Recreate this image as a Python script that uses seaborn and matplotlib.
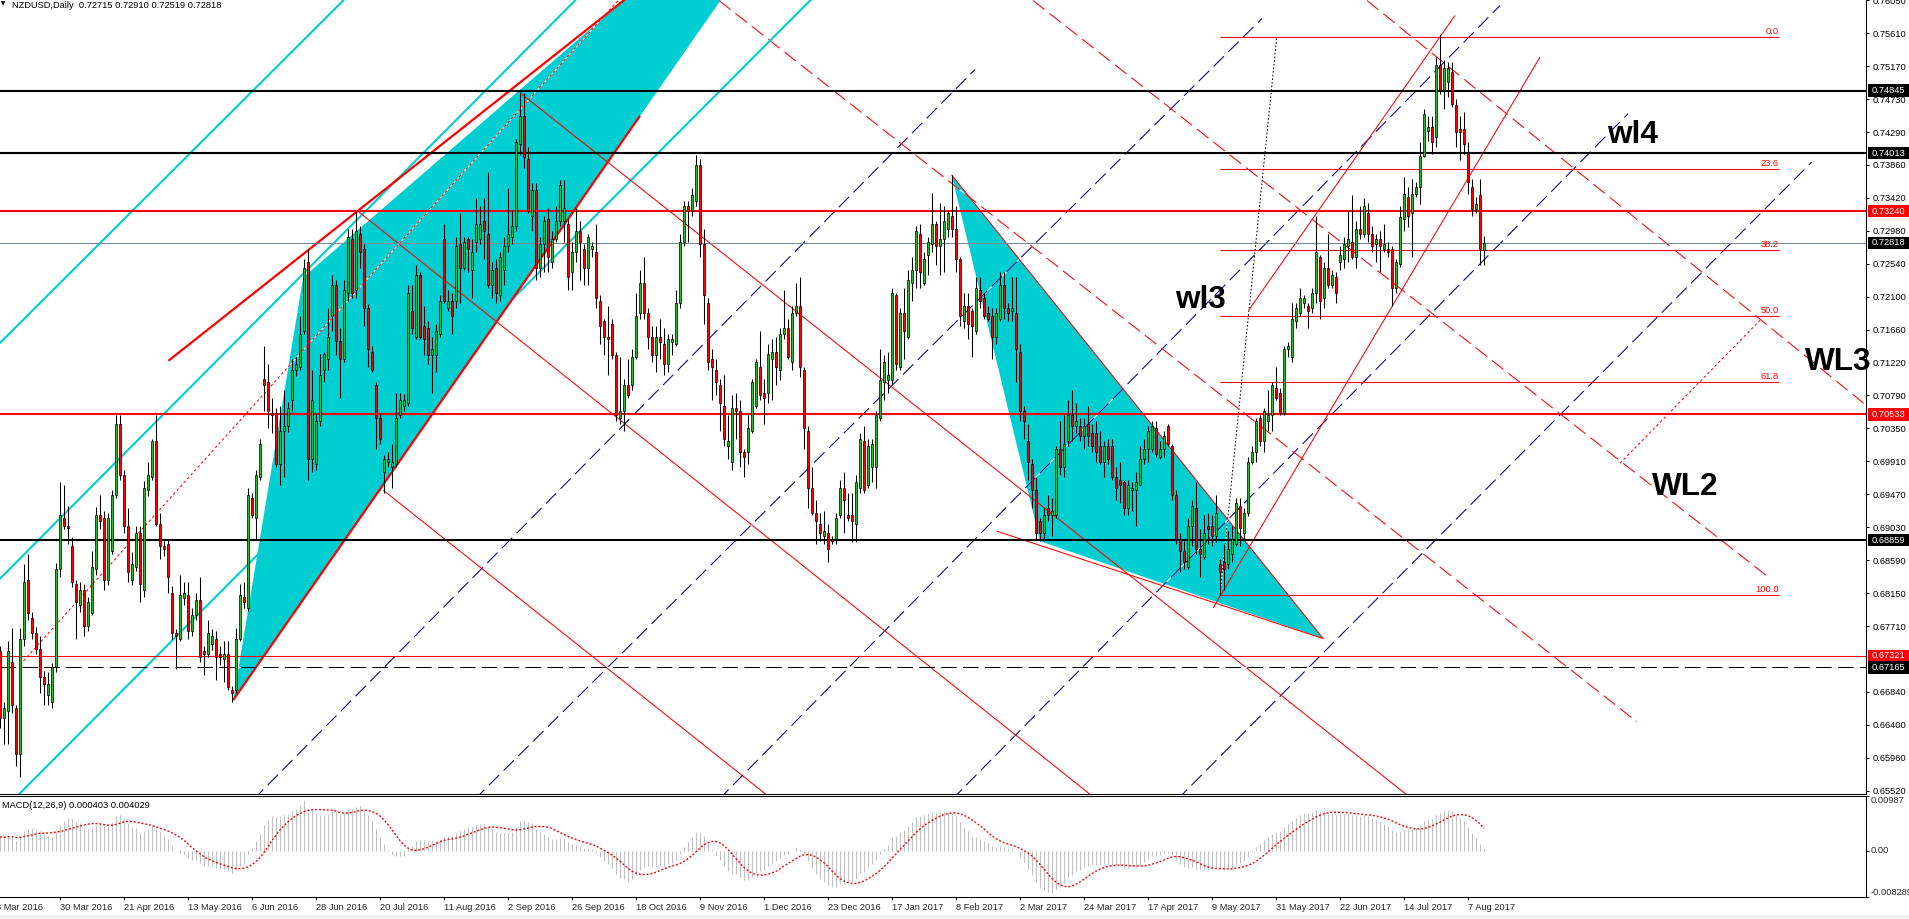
import numpy as np
import pandas as pd
import matplotlib
matplotlib.use("Agg")
import matplotlib.pyplot as plt
import matplotlib.transforms as mtransforms
from matplotlib.patches import Polygon, Rectangle
import seaborn as sns

W, H = 1909, 919

# ---- daily NZDUSD candles, pips (0.0001), bar 0 = 9 Mar 2016 ----
opens = [
    6738, 6649, 6659, 6724, 6663, 6601, 6755, 6833, 6782, 6762,
    6741, 6704, 6680, 6670, 6717, 6847, 6915, 6905, 6878, 6827,
    6799, 6820, 6772, 6789, 6847, 6919, 6915, 6833, 6871, 6946,
    7041, 6973, 6905, 6833, 6850, 6895, 6820, 6953, 6970, 7018,
    6908, 6878, 6881, 6816, 6762, 6755, 6809, 6813, 6765, 6786,
    6806, 6738, 6734, 6748, 6755, 6734, 6728, 6734, 6687, 6687,
    6755, 6810, 6796, 6942, 6915, 6970, 7100, 7096, 7055, 7055,
    6987, 7031, 7038, 7072, 7113, 7116, 7164, 7256, 6994, 6987,
    7045, 7113, 7127, 7185, 7226, 7151, 7127, 7215, 7287, 7219,
    7294, 7273, 7195, 7137, 7093, 7048, 6977, 6990, 6983, 6987,
    7052, 7065, 7069, 7191, 7157, 7239, 7171, 7168, 7133, 7133,
    7161, 7287, 7195, 7205, 7205, 7280, 7249, 7287, 7246, 7283,
    7287, 7311, 7294, 7226, 7249, 7212, 7246, 7277, 7290, 7304,
    7413, 7451, 7393, 7318, 7352, 7249, 7280, 7314, 7256, 7287,
    7311, 7311, 7307, 7243, 7270, 7297, 7273, 7249, 7273, 7270,
    7205, 7178, 7157, 7174, 7133, 7048, 7058, 7093, 7093, 7130,
    7188, 7229, 7188, 7157, 7133, 7157, 7147, 7120, 7150, 7147,
    7202, 7283, 7331, 7324, 7338, 7386, 7280, 7202, 7127, 7113,
    7093, 7065, 7011, 6990, 7062, 7058, 7004, 7004, 7031, 7065,
    7116, 7082, 7082, 7127, 7137, 7113, 7161, 7168, 7123, 7188,
    7198, 7113, 7031, 6956, 6922, 6908, 6891, 6895, 6888, 6888,
    6919, 6956, 6919, 6919, 6908, 6956, 7018, 6959, 6983, 6983,
    7048, 7096, 7099, 7099, 7212, 7116, 7188, 7157, 7229, 7246,
    7294, 7229, 7266, 7280, 7307, 7277, 7287, 7300, 7318, 7300,
    7260, 7178, 7198, 7191, 7164, 7219, 7208, 7188, 7185, 7157,
    7181, 7226, 7195, 7191, 7188, 7137, 7058, 7018, 6987, 6953,
    6912, 6895, 6929, 6919, 6919, 7007, 6983, 7018, 7052, 7038,
    7038, 7024, 7041, 7028, 7028, 7011, 6990, 7011, 7011, 6970,
    6966, 6963, 6929, 6953, 6953, 6959, 6994, 7007, 7007, 7035,
    6997, 7007, 7038, 7011, 6946, 6888, 6871, 6850, 6905, 6929,
    6874, 6864, 6905, 6905, 6891, 6854, 6857, 6854, 6867, 6881,
    6932, 6895, 6922, 6990, 7004, 7048, 7018, 7045, 7052, 7089,
    7082, 7055, 7140, 7130, 7178, 7188, 7202, 7198, 7195, 7215,
    7263, 7209, 7249, 7226, 7236, 7256, 7260, 7277, 7283, 7263,
    7300, 7294, 7321, 7294, 7280, 7287, 7273, 7273, 7273, 7222,
    7254, 7314, 7343, 7321, 7347, 7356, 7398, 7431, 7436, 7423,
    7518, 7485, 7496, 7509, 7465, 7434, 7434, 7400, 7356, 7327,
    7345, 7272,
]
highs = [
    6745, 6670, 6752, 6769, 6666, 6769, 6854, 6867, 6790, 6770,
    6758, 6712, 6711, 6722, 6855, 6963, 6959, 6932, 6890, 6833,
    6830, 6828, 6810, 6871, 6930, 6946, 6925, 6922, 6953, 7052,
    7052, 6980, 6929, 6870, 6905, 6905, 6965, 6990, 7021, 7052,
    6922, 6885, 6888, 6825, 6768, 6840, 6830, 6830, 6795, 6815,
    6837, 6745, 6779, 6768, 6765, 6745, 6752, 6752, 6692, 6769,
    6827, 6830, 6956, 6949, 6980, 7021, 7144, 7120, 7075, 7062,
    7065, 7086, 7070, 7127, 7130, 7185, 7260, 7273, 7113, 7055,
    7134, 7137, 7195, 7239, 7232, 7168, 7232, 7300, 7300, 7324,
    7304, 7280, 7200, 7145, 7096, 7055, 7000, 7004, 7014, 7082,
    7082, 7080, 7226, 7226, 7253, 7243, 7198, 7178, 7157, 7174,
    7212, 7307, 7219, 7215, 7290, 7321, 7290, 7290, 7287, 7341,
    7331, 7341, 7376, 7256, 7260, 7270, 7290, 7355, 7325, 7420,
    7483, 7481, 7410, 7362, 7362, 7290, 7318, 7328, 7297, 7331,
    7365, 7365, 7314, 7283, 7328, 7311, 7280, 7294, 7283, 7307,
    7212, 7181, 7198, 7181, 7137, 7130, 7100, 7127, 7140, 7215,
    7246, 7263, 7195, 7171, 7171, 7181, 7168, 7161, 7161, 7219,
    7294, 7338, 7338, 7355, 7399, 7393, 7300, 7208, 7140, 7127,
    7100, 7106, 7052, 7079, 7082, 7072, 7007, 7052, 7100, 7127,
    7164, 7100, 7147, 7154, 7157, 7168, 7219, 7181, 7198, 7229,
    7236, 7116, 7038, 6983, 6939, 6922, 6925, 6908, 6891, 6922,
    6966, 6977, 6949, 6949, 6973, 7028, 7038, 7021, 7021, 7058,
    7140, 7133, 7137, 7222, 7215, 7195, 7222, 7246, 7263, 7304,
    7307, 7270, 7290, 7348, 7311, 7335, 7331, 7324, 7372, 7331,
    7263, 7215, 7215, 7195, 7236, 7236, 7215, 7198, 7195, 7195,
    7243, 7243, 7202, 7236, 7236, 7147, 7065, 7041, 6994, 6970,
    6915, 6929, 6946, 6942, 7011, 7045, 7052, 7072, 7086, 7069,
    7048, 7048, 7065, 7041, 7045, 7031, 7018, 7021, 7021, 6983,
    6990, 6966, 6966, 6963, 6977, 7011, 7021, 7038, 7045, 7045,
    7018, 7031, 7041, 7014, 6953, 6895, 6885, 6915, 6939, 6963,
    6901, 6919, 6922, 6919, 6946, 6861, 6881, 6898, 6905, 6942,
    6942, 6929, 6997, 7011, 7048, 7052, 7062, 7086, 7096, 7116,
    7089, 7144, 7150, 7202, 7202, 7222, 7212, 7202, 7222, 7318,
    7266, 7256, 7294, 7246, 7243, 7277, 7290, 7324, 7345, 7311,
    7331, 7341, 7335, 7304, 7294, 7297, 7307, 7283, 7277, 7260,
    7331, 7369, 7356, 7367, 7363, 7416, 7460, 7451, 7451, 7529,
    7558, 7525, 7522, 7522, 7474, 7451, 7456, 7416, 7367, 7343,
    7367, 7291,
]
lows = [
    6636, 6615, 6615, 6656, 6585, 6570, 6745, 6779, 6755, 6735,
    6683, 6666, 6666, 6663, 6710, 6837, 6901, 6881, 6823, 6755,
    6790, 6758, 6765, 6786, 6840, 6901, 6820, 6826, 6867, 6942,
    6966, 6895, 6830, 6826, 6845, 6803, 6810, 6945, 6966, 6905,
    6861, 6865, 6816, 6755, 6714, 6752, 6800, 6755, 6758, 6780,
    6724, 6707, 6731, 6740, 6700, 6720, 6697, 6687, 6670, 6683,
    6752, 6795, 6792, 6915, 6888, 6966, 7058, 7035, 7028, 6983,
    6960, 6970, 7030, 7058, 7105, 7113, 7161, 6966, 6977, 6980,
    7038, 7096, 7113, 7164, 7133, 7075, 7123, 7205, 7208, 7208,
    7249, 7171, 7116, 7110, 7007, 7014, 6949, 6983, 6956, 6983,
    7048, 7058, 7065, 7161, 7154, 7154, 7133, 7120, 7082, 7110,
    7157, 7202, 7191, 7161, 7195, 7202, 7246, 7243, 7209, 7270,
    7280, 7260, 7222, 7209, 7202, 7205, 7226, 7270, 7280, 7297,
    7399, 7382, 7321, 7297, 7232, 7236, 7243, 7243, 7249, 7283,
    7304, 7283, 7219, 7219, 7256, 7232, 7226, 7226, 7263, 7195,
    7147, 7133, 7106, 7127, 7045, 7041, 7031, 7075, 7086, 7127,
    7181, 7181, 7140, 7123, 7110, 7127, 7106, 7110, 7133, 7144,
    7195, 7277, 7283, 7318, 7331, 7263, 7174, 7113, 7072, 7079,
    7031, 7011, 6994, 6980, 7021, 6983, 6970, 6987, 7028, 7062,
    7072, 7041, 7069, 7072, 7093, 7099, 7154, 7127, 7113, 7185,
    7103, 7007, 6929, 6920, 6881, 6885, 6881, 6857, 6881, 6881,
    6915, 6895, 6912, 6884, 6884, 6949, 6949, 6956, 6963, 6956,
    7045, 7072, 7082, 7093, 7113, 7113, 7127, 7154, 7205, 7222,
    7222, 7226, 7239, 7270, 7253, 7239, 7243, 7290, 7290, 7243,
    7171, 7168, 7154, 7130, 7161, 7195, 7181, 7178, 7127, 7147,
    7178, 7181, 7178, 7178, 7096, 7045, 7021, 6966, 6929, 6888,
    6885, 6888, 6912, 6891, 6915, 6973, 6970, 7011, 7018, 7028,
    7018, 7007, 7011, 7004, 6990, 6987, 6970, 6987, 6966, 6939,
    6936, 6919, 6919, 6925, 6905, 6959, 6987, 6990, 7004, 6997,
    6994, 6997, 7011, 6939, 6881, 6844, 6847, 6847, 6878, 6867,
    6837, 6861, 6881, 6878, 6884, 6813, 6820, 6847, 6857, 6878,
    6878, 6888, 6918, 6987, 6990, 7011, 7004, 7031, 7031, 7072,
    7052, 7052, 7130, 7123, 7168, 7185, 7195, 7168, 7188, 7202,
    7181, 7195, 7222, 7222, 7202, 7246, 7249, 7256, 7260, 7249,
    7287, 7290, 7283, 7270, 7256, 7243, 7270, 7263, 7198, 7215,
    7250, 7298, 7303, 7263, 7343, 7334, 7396, 7418, 7400, 7409,
    7480, 7460, 7476, 7463, 7409, 7392, 7400, 7347, 7318, 7321,
    7252, 7252,
]
closes = [
    6649, 6663, 6738, 6666, 6601, 6755, 6830, 6789, 6762, 6741,
    6704, 6694, 6694, 6717, 6847, 6919, 6905, 6902, 6830, 6803,
    6820, 6772, 6803, 6850, 6919, 6912, 6833, 6915, 6946, 7041,
    6973, 6905, 6844, 6854, 6895, 6827, 6956, 6973, 7018, 6908,
    6878, 6874, 6837, 6762, 6758, 6813, 6816, 6765, 6786, 6806,
    6731, 6734, 6762, 6758, 6731, 6731, 6734, 6690, 6683, 6755,
    6813, 6803, 6946, 6919, 6973, 7014, 7093, 7058, 7052, 6987,
    7031, 7038, 7062, 7113, 7120, 7161, 7249, 6994, 7072, 7045,
    7106, 7134, 7157, 7226, 7151, 7127, 7219, 7290, 7215, 7297,
    7270, 7195, 7140, 7113, 7048, 7021, 6994, 6994, 6990, 7048,
    7072, 7072, 7215, 7168, 7239, 7157, 7154, 7133, 7140, 7164,
    7205, 7205, 7205, 7185, 7277, 7249, 7283, 7273, 7270, 7307,
    7307, 7297, 7226, 7246, 7215, 7263, 7277, 7294, 7304, 7416,
    7451, 7396, 7324, 7352, 7249, 7280, 7311, 7263, 7287, 7311,
    7359, 7328, 7236, 7270, 7297, 7283, 7249, 7290, 7277, 7208,
    7171, 7157, 7154, 7133, 7052, 7058, 7093, 7079, 7130, 7185,
    7229, 7188, 7157, 7133, 7157, 7150, 7120, 7154, 7154, 7202,
    7283, 7331, 7324, 7345, 7386, 7280, 7212, 7123, 7116, 7096,
    7069, 7021, 7018, 7062, 7058, 7004, 6997, 7035, 7096, 7123,
    7079, 7075, 7134, 7137, 7116, 7161, 7168, 7130, 7188, 7198,
    7116, 7035, 6956, 6922, 6912, 6895, 6898, 6874, 6885, 6915,
    6956, 6939, 6915, 6912, 6963, 7021, 6953, 7011, 7014, 7052,
    7099, 7123, 7106, 7215, 7120, 7188, 7164, 7232, 7246, 7297,
    7243, 7260, 7283, 7307, 7277, 7287, 7311, 7321, 7300, 7260,
    7185, 7198, 7174, 7171, 7222, 7205, 7185, 7181, 7157, 7188,
    7226, 7195, 7188, 7195, 7140, 7058, 7045, 6990, 6953, 6895,
    6895, 6919, 6919, 6925, 7007, 6983, 7014, 7052, 7038, 7045,
    7024, 7038, 7024, 7011, 7004, 6990, 7011, 6994, 6970, 6956,
    6959, 6929, 6959, 6956, 6963, 6994, 7007, 7031, 7038, 7001,
    7007, 7024, 7014, 6946, 6888, 6871, 6857, 6905, 6932, 6874,
    6867, 6895, 6901, 6891, 6922, 6844, 6847, 6874, 6888, 6936,
    6902, 6922, 6990, 7004, 7045, 7018, 7058, 7052, 7093, 7075,
    7055, 7140, 7144, 7181, 7195, 7208, 7208, 7191, 7215, 7270,
    7205, 7249, 7226, 7239, 7215, 7266, 7280, 7287, 7263, 7300,
    7294, 7331, 7294, 7277, 7287, 7277, 7280, 7270, 7222, 7256,
    7316, 7347, 7318, 7347, 7356, 7398, 7454, 7436, 7416, 7518,
    7485, 7514, 7514, 7467, 7429, 7429, 7414, 7363, 7327, 7334,
    7274, 7282,
]

date_bars = [-1, 15, 31, 47, 63, 79, 95, 111, 127, 143, 159, 175,
             191, 207, 223, 239, 255, 271, 287, 303, 319, 335, 351, 367]
date_labels = ["8 Mar 2016", "30 Mar 2016", "21 Apr 2016", "13 May 2016",
               "6 Jun 2016", "28 Jun 2016", "20 Jul 2016", "11 Aug 2016",
               "2 Sep 2016", "26 Sep 2016", "18 Oct 2016", "9 Nov 2016",
               "1 Dec 2016", "23 Dec 2016", "17 Jan 2017", "8 Feb 2017",
               "2 Mar 2017", "24 Mar 2017", "17 Apr 2017", "9 May 2017",
               "31 May 2017", "22 Jun 2017", "14 Jul 2017", "7 Aug 2017"]

price_tick_labels = ["0.76050", "0.75610", "0.75170", "0.74730", "0.74290",
                     "0.73860", "0.73420", "0.72980", "0.72540", "0.72100",
                     "0.71660", "0.71220", "0.70790", "0.70350", "0.69910",
                     "0.69470", "0.69030", "0.68590", "0.68150", "0.67710",
                     "0.66840", "0.66400", "0.65960", "0.65520"]
macd_tick_values = [0.00987, 0.0, -0.008289]
macd_tick_labels = ["0.00987", "0.00", "-0.008289"]
ema_seed_fast, ema_seed_slow = 0.6660, 0.6632

# horizontal levels
black_levels = [0.74845, 0.74013, 0.68859]
red_levels = [0.73240, 0.70533]
thin_red_level = 0.67321
dashed_level = 0.67165
bid_level = 0.72818
box_levels = [0.74845, 0.74013, 0.73240, 0.72818, 0.70533, 0.68859, 0.67321, 0.67165]
box_colors = ["black", "black", "red", "black", "red", "black", "red", "black"]

# fibonacci retracement
fib_pcts = [0.0, 23.6, 38.2, 50.0, 61.8, 100.0]
fib_names = ["0.0", "23.6", "38.2", "50.0", "61.8", "100.0"]
fib_high, fib_low = 0.75560, 0.68130
fib_bars = (305, 444.75)
fib_trend = [(305, 0.68130), (319.2, 0.75560)]

# drawn objects, anchors as (bar, price)
cyan_channel = [[(0, 0.71486), (85.8, 0.76045)],
                [(0, 0.68347), (143.75, 0.76045)],
                [(3.3, 0.65400), (202.5, 0.76045)]]
wedge_fill = [(58.3, 0.66730), (75.8, 0.72359), (217.0, 0.78866)]
wedge_top = [(42.1, 0.71248), (155.9, 0.76045)]
wedge_bottom = [(58.3, 0.66730), (160.0, 0.74510)]
wedge_dots = [(5, 0.67200), (71.7, 0.71146)]
flag_fill = [(237.9, 0.73724), (260.0, 0.68846), (330.8, 0.67549)]
flag_edges = [[(237.9, 0.73724), (330.8, 0.67549)],
              [(249.2, 0.68979), (330.8, 0.67549)]]
red_rays = [[(130.0, 0.74817), (352.5, 0.65435)],
            [(89.2, 0.73251), (255.0, 0.66218)],
            [(95.8, 0.69525), (193.25, 0.65400)]]
red_dashed = [[(179.75, 0.76045), (409.2, 0.66442)],
              [(258.25, 0.76045), (442.5, 0.68350)]]
red_dashed_ray = [(341.75, 0.76045), (465.0, 0.70722)]
red_dotted = [(405.0, 0.69884), (440.0, 0.71787)]
rise_lines = [[(312.1, 0.71916), (363.75, 0.75846)],
              [(303.3, 0.67959), (385.0, 0.75291)]]
blue_dashed = [[(63.25, 0.65400), (243.75, 0.75127)],
               [(118.5, 0.65400), (315.5, 0.75806)],
               [(179.6, 0.65400), (375.0, 0.75979)],
               [(237.9, 0.65400), (407.0, 0.74537)],
               [(294.2, 0.65400), (452.9, 0.73893)]]
wave_labels = ["wl3", "wl4", "WL3", "WL2"]
wave_pos = [(293.75, 0.71946), (401.75, 0.74142), (451.25, 0.71122), (413.0, 0.69458)]

TITLE = "NZDUSD,Daily  0.72715 0.72910 0.72519 0.72818"
MACD_TITLE = "MACD(12,26,9) 0.000403 0.004029"

CYAN = "#00CED1"
GREEN = "#2DB82D"
NAVY = "#000080"
FS = 6.7

sns.set_theme(style="white")
plt.rcParams["font.family"] = ["Liberation Sans", "DejaVu Sans"]
plt.rcParams["axes.linewidth"] = 0.75


def seg(ax, p, q, **kw):
    ax.plot([p[0], q[0]], [p[1], q[1]], solid_capstyle="butt", **kw)


def ray(ax, p, q, **kw):
    far = (p[0] + 40 * (q[0] - p[0]), p[1] + 40 * (q[1] - p[1]))
    seg(ax, p, far, **kw)


def broken(ax, p, q, color, dash, extend=False, z=2.5):
    # MT4 paints the gaps of dashed pens in the background colour
    draw = ray if extend else seg
    draw(ax, p, q, color="white", lw=0.75, zorder=z - 0.3)
    draw(ax, p, q, color=color, lw=0.75, linestyle=(0, dash), zorder=z)


def ema(values, seed, span):
    a = 2.0 / (span + 1)
    out, prev = [], seed
    for v in values:
        prev = prev + a * (v - prev)
        out.append(prev)
    return pd.Series(out)


fig = plt.figure(figsize=(W / 100, H / 100), dpi=100)
fig.patch.set_facecolor("white")
ax = fig.add_axes([0, 125 / H, 1866 / W, 794 / H])
axm = fig.add_axes([0, 22 / H, 1866 / W, 101 / H], sharex=ax)
axr = fig.add_axes([1866 / W, 125 / H, (W - 1866) / W, 794 / H], sharey=ax)

o = np.array(opens) / 1e4
h = np.array(highs) / 1e4
l = np.array(lows) / 1e4
c = np.array(closes) / 1e4
x = np.arange(len(c))

# --- filled triangles ---
ax.add_patch(Polygon(wedge_fill, closed=True, facecolor=CYAN, edgecolor="none", zorder=1))
ax.add_patch(Polygon(flag_fill, closed=True, facecolor=CYAN, edgecolor="none", zorder=1))

# --- dashed / dotted objects ---
for p, q in blue_dashed:
    broken(ax, p, q, NAVY, (14, 6))
for p, q in red_dashed:
    broken(ax, p, q, "red", (14, 6))
broken(ax, red_dashed_ray[0], red_dashed_ray[1], "red", (14, 6), extend=True)
broken(ax, red_dotted[0], red_dotted[1], "red", (2.5, 2.5))
broken(ax, wedge_dots[0], wedge_dots[1], "red", (2.5, 2.5), extend=True)
broken(ax, fib_trend[0], fib_trend[1], "black", (1.5, 2))

# --- solid trend lines ---
for p, q in cyan_channel:
    ax.axline(p, q, color=CYAN, lw=1.5, zorder=3)
for p, q in red_rays:
    ray(ax, p, q, color="red", lw=0.75, zorder=3)
for p, q in flag_edges:
    seg(ax, p, q, color="red", lw=0.75, zorder=3)
for p, q in rise_lines:
    seg(ax, p, q, color="red", lw=0.75, zorder=3)
ray(ax, wedge_top[0], wedge_top[1], color="red", lw=1.6, zorder=3.2)
seg(ax, wedge_bottom[0], wedge_bottom[1], color="red", lw=1.6, zorder=3.2)

# --- horizontal levels ---
for lv in black_levels:
    ax.axhline(lv, color="black", lw=1.5, zorder=3.5)
for lv in red_levels:
    ax.axhline(lv, color="red", lw=1.5, zorder=3.5)
ax.axhline(thin_red_level, color="red", lw=0.75, zorder=3.5)
ax.axhline(dashed_level, color="white", lw=0.75, zorder=3.4)
ax.axhline(dashed_level, color="black", lw=0.75, linestyle=(0, (15, 6)), zorder=3.5)
ax.axhline(bid_level, color="#778899", lw=0.75, zorder=3.5)

# --- fibonacci levels ---
fib_prices = [fib_high - pct / 100 * (fib_high - fib_low) for pct in fib_pcts]
ax.hlines(fib_prices, fib_bars[0], fib_bars[1], color="red", lw=0.75, zorder=4)
for pr, name in zip(fib_prices, fib_names):
    ax.text(fib_bars[1], pr + 0.00015, name, color="red", fontsize=FS,
            ha="right", va="bottom", zorder=4)

# --- candles ---
up = c >= o
body_lo = np.minimum(o, c)
body_h = np.maximum(np.abs(c - o), 0.00006)
ax.vlines(x, l, h, color="black", lw=0.75, zorder=6)
ax.bar(x, body_h, bottom=body_lo, width=0.6, color=np.where(up, GREEN, "red"),
       edgecolor="black", linewidth=0.5, zorder=7)

# --- wave labels ---
for txt, (bx, by) in zip(wave_labels, wave_pos):
    ax.text(bx, by, txt, fontsize=22.7, fontweight="bold", color="black",
            ha="left", va="baseline", zorder=9, clip_on=False)

# --- MACD panel (12, 26, 9; SMA signal as in MT4) ---
macd_main = ema(c, ema_seed_fast, 12) - ema(c, ema_seed_slow, 26)
macd_signal = macd_main.rolling(9, min_periods=1).mean()
axm.vlines(x, 0, macd_main.values, color="#C0C0C0", lw=0.75, zorder=2)
sns.lineplot(x=x, y=macd_signal.values, ax=axm, color="red", lw=1.0, zorder=3)
axm.lines[-1].set_linestyle((0, (1.4, 1.4)))

# --- axes styling ---
ax.set_xlim(0, 466.5)
ax.set_ylim(0.654796, 0.76052)
axm.set_ylim(-0.008289, 0.00987)
axr.set_xlim(0, 1)
axr.set_axis_off()

for a in (ax, axm):
    a.set_facecolor("white")
    a.grid(False)
    a.spines["left"].set_visible(False)
    for s in ("right", "bottom", "top"):
        a.spines[s].set_color("black")
        a.spines[s].set_linewidth(0.75)
ax.spines["top"].set_visible(False)

ax.yaxis.tick_right()
ax.set_yticks([float(v) for v in price_tick_labels])
ax.set_yticklabels(price_tick_labels)
ax.tick_params(axis="y", right=True, left=False, labelright=True, labelleft=False,
               length=2.5, width=0.75, pad=2, labelsize=FS, colors="black", direction="out")
ax.tick_params(axis="x", bottom=False, labelbottom=False)

axm.yaxis.tick_right()
axm.set_yticks(macd_tick_values)
axm.set_yticklabels([])
axm.tick_params(axis="y", right=True, left=False, length=2.5, width=0.75, direction="out")
axm.set_xticks(date_bars[1:])
axm.set_xticklabels([])
axm.tick_params(axis="x", bottom=True, length=2.5, width=0.75, direction="out", colors="black")
axm.set_xlabel("")
axm.set_ylabel("")

mtr = mtransforms.blended_transform_factory(fig.transFigure, axm.transData)
for val, lab, va in zip(macd_tick_values, macd_tick_labels, ["top", "center", "bottom"]):
    axm.text(1871 / W, val, lab, transform=mtr, fontsize=FS, ha="left", va=va, clip_on=False)

dtr = mtransforms.blended_transform_factory(axm.transData, fig.transFigure)
for b, lab in zip(date_bars, date_labels):
    axm.text(b, 1 - 907 / H, lab, transform=dtr, fontsize=FS, ha="left", va="center",
             clip_on=False)

# --- price boxes on the axis ---
hh = 6.2 / 7515
for lv, col in zip(box_levels, box_colors):
    axr.add_patch(Rectangle((0.04, lv - hh), 0.96, 2 * hh, facecolor=col,
                            edgecolor="none", zorder=5, clip_on=False))
    axr.text(0.12, lv, f"{lv:.5f}", color="white", fontsize=FS, ha="left",
             va="center", zorder=6, clip_on=False)

# --- titles ---
fig.text(12 / W, 1 - 8 / H, TITLE, fontsize=FS, ha="left", va="baseline", color="black")
fig.text(1 / W, 1 - 4 / H, "\u25bc", fontsize=4, ha="left", va="center",
         family=["DejaVu Sans"], color="black")
fig.text(2 / W, 1 - 805 / H, MACD_TITLE, fontsize=FS, ha="left", va="center", color="black")

fig.add_artist(Rectangle((0, 0), 1, 4 / H, transform=fig.transFigure,
                         facecolor="#F0F0F0", edgecolor="none"))

fig.savefig("out.png", dpi=100, facecolor="white")
